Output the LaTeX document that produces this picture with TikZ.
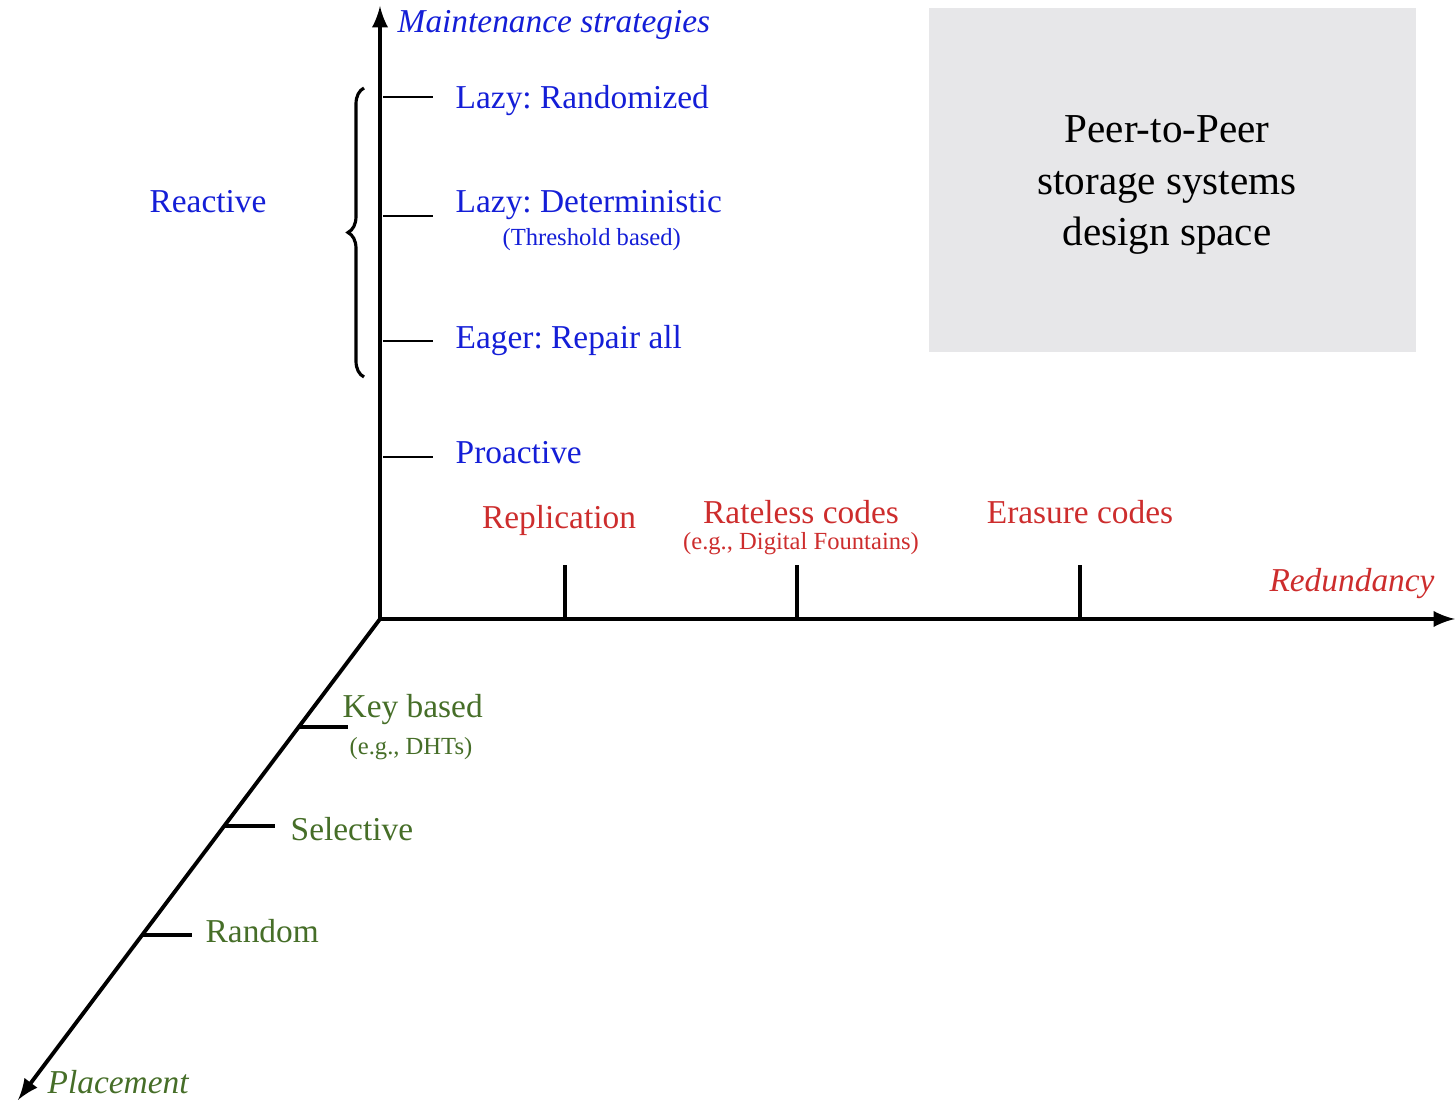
\documentclass[tikz,border=0pt]{standalone}
\usepackage{fontspec}
\setmainfont{Liberation Serif}
\usepackage{xcolor}
\usetikzlibrary{positioning,decorations.pathreplacing}

\definecolor{stratblue}{RGB}{20,30,215}
\definecolor{redunred}{RGB}{205,45,45}
\definecolor{placegreen}{RGB}{70,110,40}
\definecolor{boxgray}{RGB}{231,231,233}

\frenchspacing

\begin{document}
\begin{tikzpicture}[
    axis/.style={line width=1.1pt,-latex},
    thintick/.style={line width=0.6pt},
    thicktick/.style={line width=1pt},
    lbl/.style={inner sep=0pt,font=\fontsize{9.5}{11}\selectfont},
    sublbl/.style={inner sep=0pt,font=\fontsize{7}{8}\selectfont},
    axlbl/.style={inner sep=0pt,font=\fontsize{9.5}{11}\selectfont\itshape}
]
    \useasboundingbox (0,0) rectangle (14.55,11.03);

    %Design space box
    \fill[boxgray] (9.29,7.51) rectangle (14.16,10.95);
    \node[align=center, font=\fontsize{11.7}{14.6}\selectfont] (space) at (11.67,9.18)
        {Peer-to-Peer\\storage systems\\design space};

    %Axes
    \coordinate (o) at (3.80,4.84);
    \coordinate (top) at (3.80,10.97);
    \coordinate (right) at (14.55,4.84);
    \coordinate (diag) at (0.18,0.03);
    \draw[axis] (o) -- (top);
    \draw[axis] (o) -- (right);
    \draw[axis] (o) -- (diag);

    %Axis titles
    \node[axlbl, stratblue, anchor=west] (maint) at (3.97,10.78) {Maintenance strategies};
    \node[axlbl, redunred] (redun) at (13.52,5.19) {Redundancy};
    \node[axlbl, placegreen, anchor=west] (place) at (0.47,0.21) {Placement};

    %Maintenance ticks
    \foreach \name/\y in {rand/10.06, det/8.87, eager/7.62, proact/6.46} {
        \coordinate (m\name a) at (3.83,\y);
        \coordinate (m\name b) at (4.33,\y);
        \draw[thintick] (m\name a) -- (m\name b);
    }

    %Maintenance labels
    \node[lbl, stratblue, anchor=west] (lazyrand) at (4.55,10.02) {Lazy: Randomized};
    \node[lbl, stratblue, anchor=west] (lazydet) at (4.55,8.98) {Lazy: Deterministic};
    \node[sublbl, stratblue, below=0.07 of lazydet, xshift=0.03cm] (thresh) {(Threshold based)};
    \node[lbl, stratblue, anchor=west] (eagerall) at (4.55,7.62) {Eager: Repair all};
    \node[lbl, stratblue, anchor=west] (proactive) at (4.55,6.50) {Proactive};

    %Reactive brace
    \coordinate (brbot) at (3.64,7.26);
    \coordinate (brtop) at (3.64,10.15);
    \draw[line width=0.9pt, decorate, decoration={brace, amplitude=0.16cm}] (brbot) -- (brtop);
    \node[lbl, stratblue] (reactive) at (2.08,9.01) {Reactive};

    %Redundancy ticks
    \foreach \name/\x in {repl/5.65, rateless/7.97, erasure/10.80} {
        \coordinate (r\name a) at (\x,4.84);
        \coordinate (r\name b) at (\x,5.38);
        \draw[thicktick] (r\name a) -- (r\name b);
    }

    %Redundancy labels
    \node[lbl, redunred] (replication) at (5.59,5.83) {Replication};
    \node[lbl, redunred] (rateless) at (8.01,5.91) {Rateless codes};
    \node[sublbl, redunred, below=0.07 of rateless] (fountain) {(e.g., Digital Fountains)};
    \node[lbl, redunred] (erasure) at (10.80,5.91) {Erasure codes};

    %Placement ticks
    \foreach \name/\xa/\xb/\y in {key/3.00/3.48/3.76, sel/2.24/2.75/2.77, rnd/1.42/1.92/1.68} {
        \coordinate (p\name a) at (\xa,\y);
        \coordinate (p\name b) at (\xb,\y);
        \draw[thicktick] (p\name a) -- (p\name b);
    }

    %Placement labels
    \node[lbl, placegreen, anchor=west] (keybased) at (3.42,3.93) {Key based};
    \node[sublbl, placegreen] (dht) at (4.11,3.54) {(e.g., DHTs)};
    \node[lbl, placegreen, anchor=west] (selective) at (2.90,2.74) {Selective};
    \node[lbl, placegreen, anchor=west] (random) at (2.05,1.72) {Random};
\end{tikzpicture}
\end{document}
